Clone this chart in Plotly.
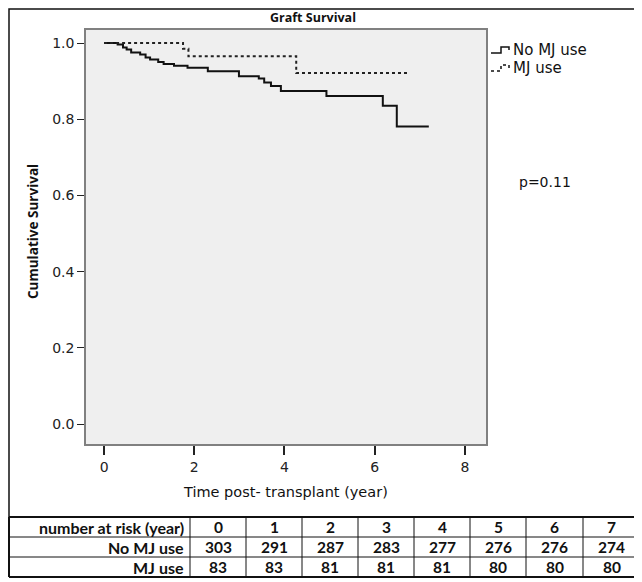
import plotly.graph_objects as go

# ---------------- data ----------------
no_mj_time = [0, 0.3, 0.42, 0.5, 0.6, 0.8, 0.92, 1.02, 1.2, 1.32, 1.55, 1.85, 2.3, 2.99, 3.43, 3.55, 3.7, 3.92, 4.93, 6.18, 6.49, 7.2]
no_mj_surv = [1.0, 0.996, 0.988, 0.983, 0.975, 0.970, 0.962, 0.957, 0.950, 0.945, 0.940, 0.935, 0.926, 0.913, 0.907, 0.896, 0.887, 0.874, 0.861, 0.835, 0.781, 0.781]

mj_time = [0, 1.75, 1.87, 4.26, 6.75]
mj_surv = [1.0, 0.985, 0.965, 0.921, 0.921]

risk_years = ["0", "1", "2", "3", "4", "5", "6", "7"]
no_mj_risk = [303, 291, 287, 283, 277, 276, 276, 274]
mj_risk = [83, 83, 81, 81, 81, 80, 80, 80]
row_labels = ["number at risk (year)", "No MJ use", "MJ use"]

series_names = ["No MJ use", "MJ use"]
title_text = "Graft Survival"
x_title = "Time post- transplant (year)"
y_title = "Cumulative Survival"
p_text = "p=0.11"

# ---------------- layout geometry (page pixels) ----------------
PAGE_W, PAGE_H = 642, 582
OFF = 8  # default body margin of the html page
L, R, T, B = 86, 486, 30, 444
W, H = R - L, B - T


def px(x):
    return (x - L) / W


def py(y):
    return (B - y) / H


fig = go.Figure()
fig.add_trace(go.Scatter(x=no_mj_time, y=no_mj_surv, mode="lines", line_shape="hv",
                         line=dict(color="#111111", width=2), name=series_names[0],
                         showlegend=False))
fig.add_trace(go.Scatter(x=mj_time, y=mj_surv, mode="lines", line_shape="hv",
                         line=dict(color="#222222", width=2, dash="dot"), name=series_names[1],
                         showlegend=False))

shapes = []
annotations = []

# outer chart frame
shapes.append(dict(type="rect", xref="paper", yref="paper", x0=px(9), x1=px(637), y0=py(517), y1=py(9),
                   line=dict(color="#111111", width=1.5), layer="below"))

# legend glyphs
def glyph(y, dash):
    path = "M {a},{b} L {c},{b} L {c},{d} L {e},{d} L {e},{f}".format(
        a=px(491), b=py(y + 3), c=px(501), d=py(y - 3), e=px(509), f=py(y))
    shapes.append(dict(type="path", xref="paper", yref="paper", path=path,
                       line=dict(color="#111111", width=1.5, dash=dash)))

glyph(50, "solid")
glyph(68, "dot")
for name, yy in zip(series_names, [50, 68]):
    annotations.append(dict(text=name, xref="paper", yref="paper", x=px(511), y=py(yy),
                            xanchor="left", yanchor="middle", showarrow=False,
                            font=dict(family="DejaVu Sans", size=15, color="#111111")))

annotations.append(dict(text=p_text, xref="paper", yref="paper", x=px(517), y=py(182),
                        xanchor="left", yanchor="middle", showarrow=False,
                        font=dict(family="DejaVu Sans", size=14, color="#111111")))

# titles
annotations.append(dict(text="<b>" + title_text + "</b>", xref="paper", yref="paper", x=px(313), y=py(17),
                        xanchor="center", yanchor="middle", showarrow=False,
                        font=dict(family="Open Sans", size=12.5, color="#111111")))
annotations.append(dict(text=x_title, xref="paper", yref="paper", x=px(285), y=py(492),
                        xanchor="center", yanchor="middle", showarrow=False,
                        font=dict(family="DejaVu Sans", size=14.5, color="#111111")))
annotations.append(dict(text="<b>" + y_title + "</b>", xref="paper", yref="paper", x=px(33), y=py(232),
                        xanchor="center", yanchor="middle", showarrow=False, textangle=-90,
                        font=dict(family="Open Sans", size=13.5, color="#111111")))

# ---------------- number-at-risk table ----------------
col_edges = [9, 190, 246, 302, 358, 414, 470, 526, 583, 640]
row_edges = [517, 537, 557, 577]
for xe in col_edges:
    w = 2 if xe in (9, 640) else 1
    shapes.append(dict(type="line", xref="paper", yref="paper", x0=px(xe), x1=px(xe),
                       y0=py(row_edges[0]), y1=py(row_edges[-1]), line=dict(color="#111111", width=w)))
for ye in row_edges:
    w = 2 if ye in (517, 577) else 1
    shapes.append(dict(type="line", xref="paper", yref="paper", x0=px(col_edges[0]), x1=px(col_edges[-1]),
                       y0=py(ye), y1=py(ye), line=dict(color="#111111", width=w)))

rows = [risk_years, no_mj_risk, mj_risk]
tfont = dict(family="Lato", size=16, color="#111111")
for r, (lab, vals) in enumerate(zip(row_labels, rows)):
    yc = (row_edges[r] + row_edges[r + 1]) / 2
    annotations.append(dict(text="<b>" + lab + "</b>", xref="paper", yref="paper", x=px(186), y=py(yc),
                            xanchor="right", yanchor="middle", showarrow=False, font=tfont))
    for c, v in enumerate(vals):
        xc = (col_edges[c + 1] + col_edges[c + 2]) / 2
        annotations.append(dict(text="<b>" + str(v) + "</b>", xref="paper", yref="paper", x=px(xc), y=py(yc),
                                xanchor="center", yanchor="middle", showarrow=False,
                                font=dict(family="Lato", size=15.5, color="#111111")))

x0_val = -18 / 44.875
x1_val = 8 + 21 / 44.875
y_top = 1.0 + 13 / 381
y_bot = -20 / 381

fig.update_layout(
    width=PAGE_W - OFF, height=PAGE_H - OFF,
    margin=dict(l=L - OFF, r=PAGE_W - R, t=T - OFF, b=PAGE_H - B, autoexpand=False),
    paper_bgcolor="white", plot_bgcolor="#efefef",
    shapes=shapes, annotations=annotations,
    xaxis=dict(range=[x0_val, x1_val], tickvals=[0, 2, 4, 6, 8], ticks="outside", ticklen=9,
               tickcolor="#222222", tickwidth=1.5, showgrid=False, zeroline=False,
               showline=True, linecolor="#808080", linewidth=1.5, mirror=True,
               tickfont=dict(family="DejaVu Sans", size=14, color="#222222")),
    yaxis=dict(range=[y_bot, y_top], tickvals=[0, 0.2, 0.4, 0.6, 0.8, 1.0], tickformat=".1f",
               ticks="outside", ticklen=7, tickcolor="#222222", tickwidth=1.2, showgrid=False,
               zeroline=False, showline=True, linecolor="#808080", linewidth=1.5, mirror=True,
               tickfont=dict(family="DejaVu Sans", size=14, color="#222222")),
    showlegend=False,
)

fig.write_html("out.html")
